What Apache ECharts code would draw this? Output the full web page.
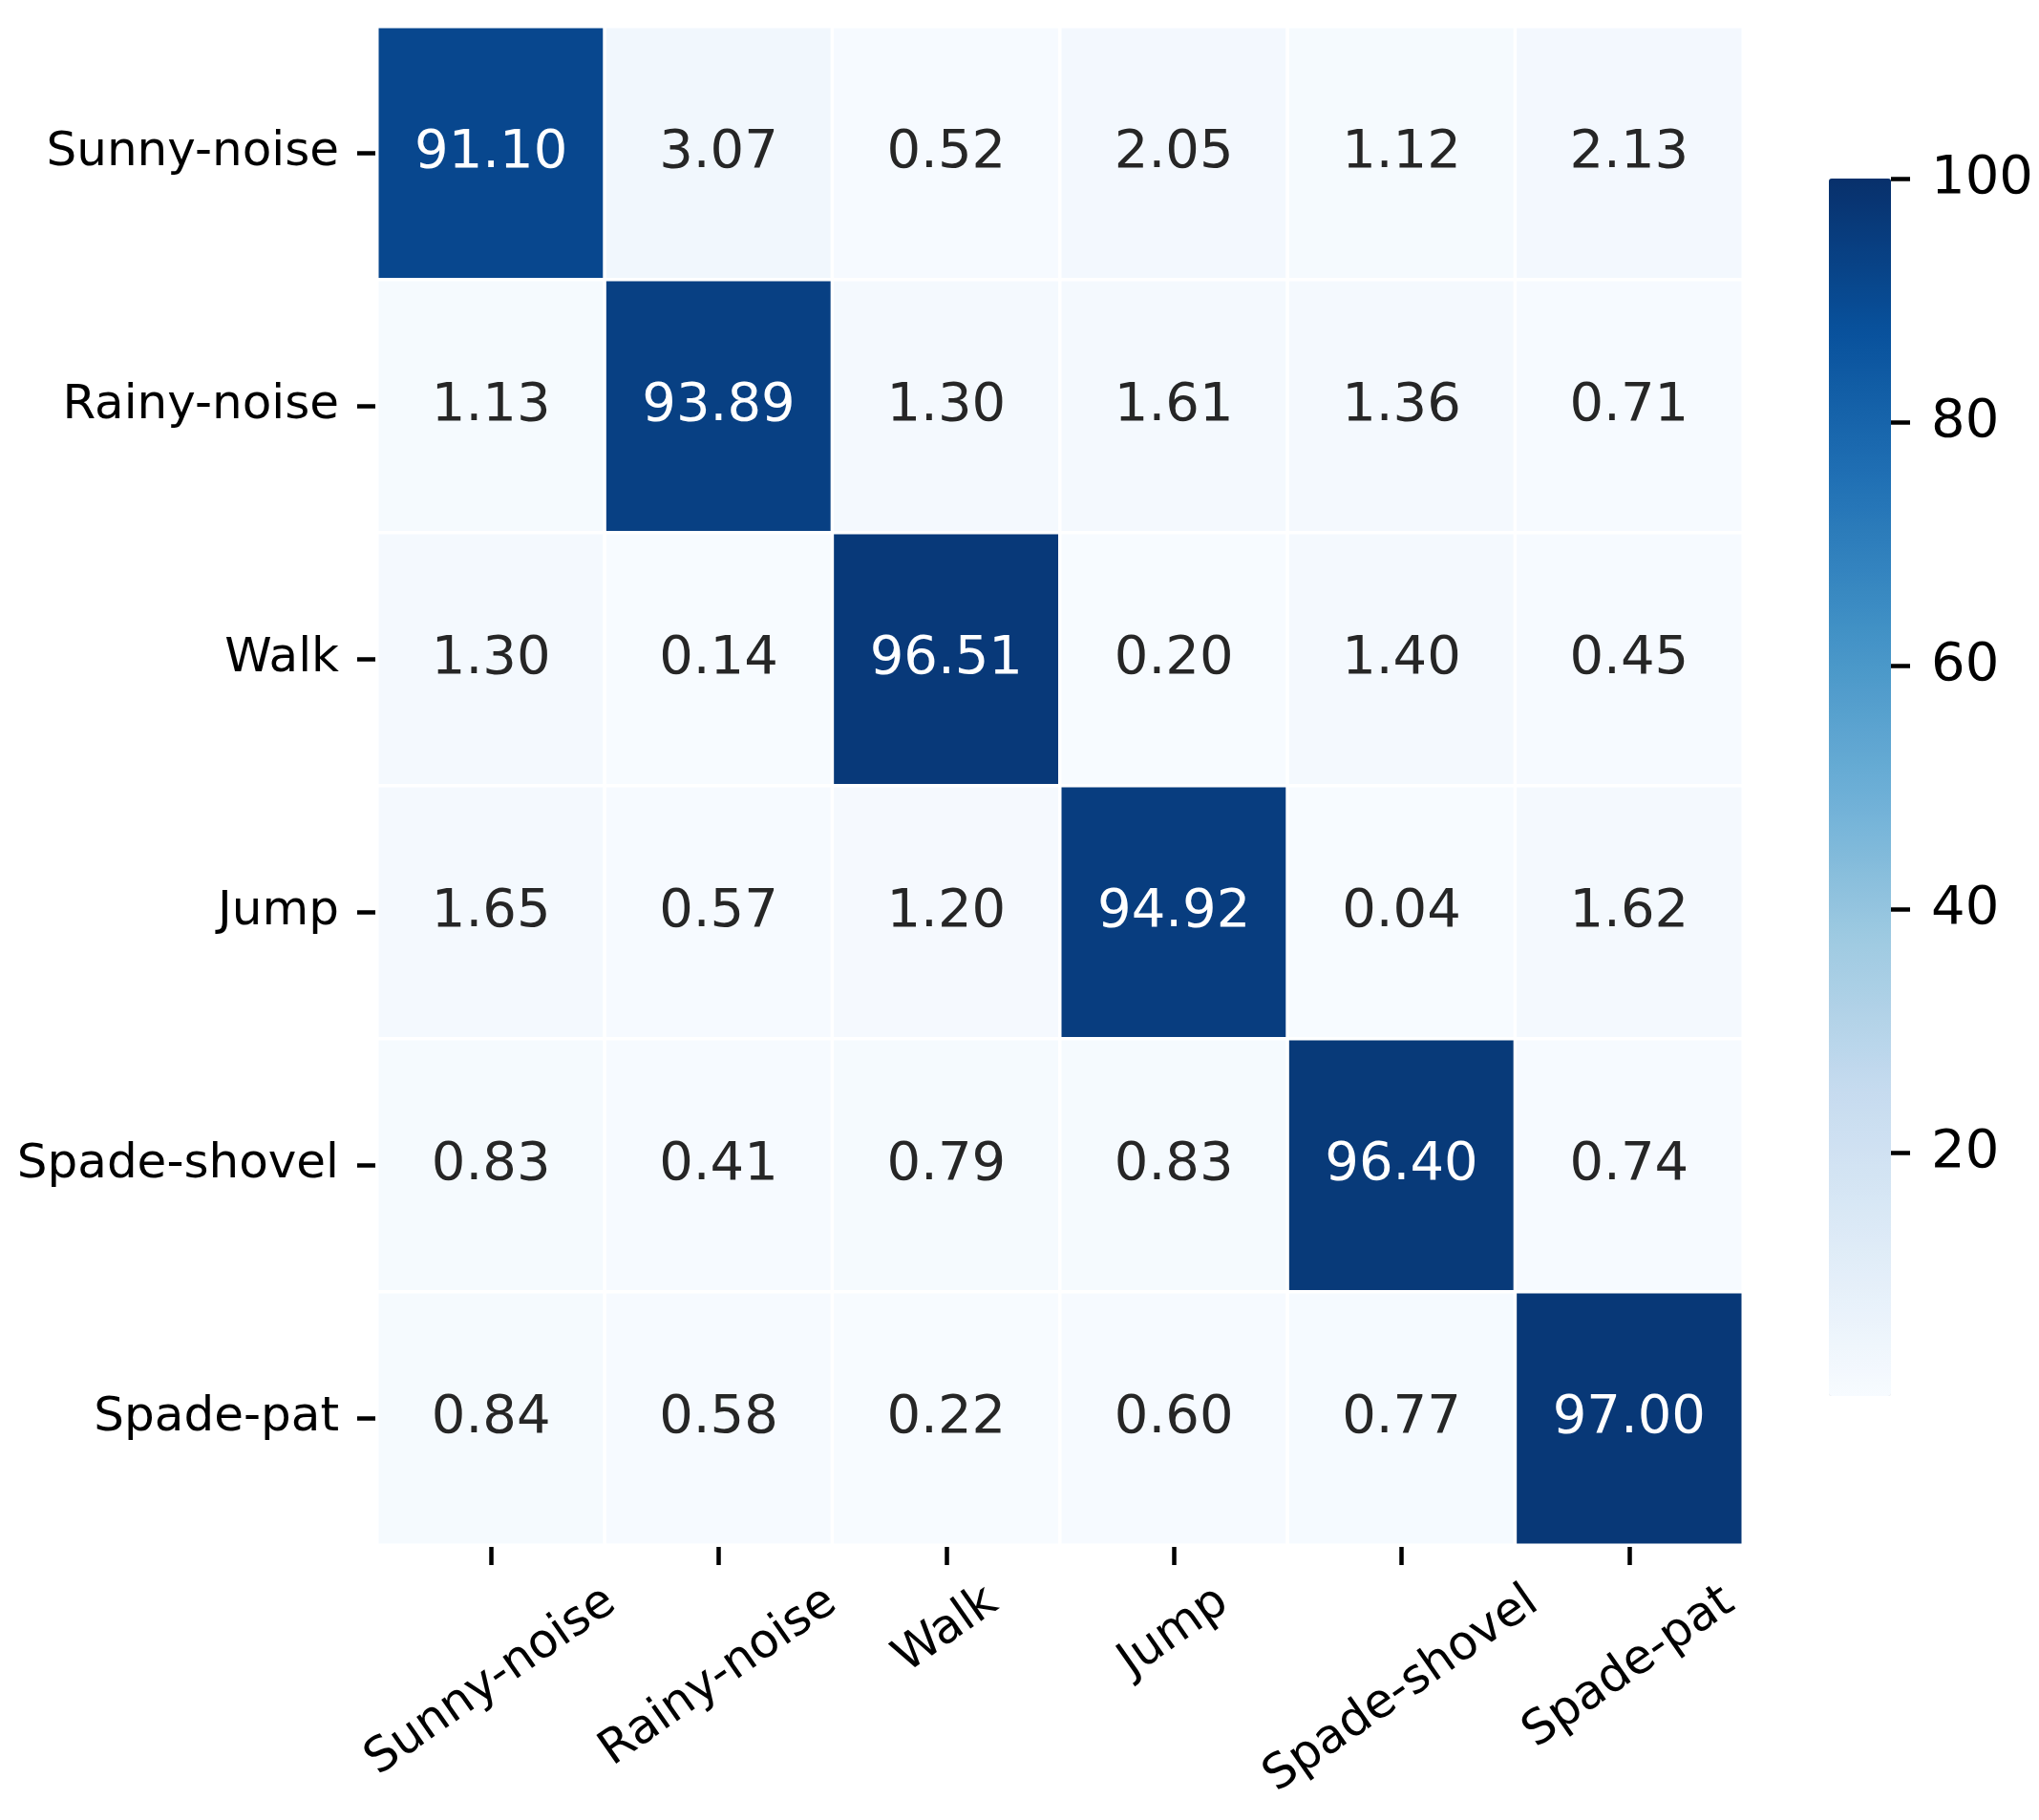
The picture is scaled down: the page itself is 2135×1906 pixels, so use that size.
<!DOCTYPE html>
<html>
<head>
    <meta charset="utf-8">
    <title>Confusion matrix</title>
    <script src="https://cdn.jsdelivr.net/npm/echarts@6/dist/echarts.min.js"></script>
    <style>
        html, body { margin: 0; padding: 0; background: #fff; }
    </style>
</head>
<body>
    <div id="main" style="width: 2135px;height:1906px;"></div>
    <script type="text/javascript">
        // class names (rows = true class, columns = predicted)
        var classes = ['Sunny-noise', 'Rainy-noise', 'Walk', 'Jump', 'Spade-shovel', 'Spade-pat'];

        // one array per row, in %
        var rowSunny = [91.10, 3.07, 0.52, 2.05, 1.12, 2.13];
        var rowRainy = [1.13, 93.89, 1.30, 1.61, 1.36, 0.71];
        var rowWalk = [1.30, 0.14, 96.51, 0.20, 1.40, 0.45];
        var rowJump = [1.65, 0.57, 1.20, 94.92, 0.04, 1.62];
        var rowShovel = [0.83, 0.41, 0.79, 0.83, 96.40, 0.74];
        var rowPat = [0.84, 0.58, 0.22, 0.60, 0.77, 97.00];
        var rows = [rowSunny, rowRainy, rowWalk, rowJump, rowShovel, rowPat];

        // colorbar scale 0..100, evenly spaced; the 0 mark is not drawn
        var colorbarTicks = ['0', '20', '40', '60', '80', '100'];
        // matplotlib "Blues"
        var blues = ['#f7fbff', '#deebf7', '#c6dbef', '#9ecae1', '#6baed6', '#4292c6', '#2171b5', '#08519c', '#08306b'];

        var FONT = 'DejaVu Sans';
        var ROT = 35;

        var data = [];
        rows.forEach(function (row, i) {
            row.forEach(function (v, j) {
                data.push({
                    value: [j, i, v],
                    label: { color: v > 60 ? '#ffffff' : '#262626' }
                });
            });
        });

        // x labels: centre the rotated box under the tick (like matplotlib ha=center).
        // shift along the text (right padding) and across it (line height, top aligned)
        var ctx = document.createElement('canvas').getContext('2d');
        ctx.font = '50px "' + FONT + '"';
        var s = Math.sin(ROT * Math.PI / 180), c = Math.cos(ROT * Math.PI / 180);
        var K = 45;
        var xLabels = classes.map(function (name) {
            var w = ctx.measureText(name).width;
            var d = w / 2 * s + K;
            return {
                value: name,
                textStyle: {
                    align: 'center',
                    verticalAlign: 'top',
                    lineHeight: 2 * d * c,
                    padding: [0, 2 * d * s, 0, 0]
                }
            };
        });

        var chart = echarts.init(document.getElementById('main'));

        var tickStyle = { show: true, length: 21, lineStyle: { color: '#000', width: 4.5 } };
        var hiddenLine = { show: true, onZero: false, lineStyle: { color: 'rgba(0,0,0,0)', width: 0 } };
        var skipZero = function (index) { return index > 0; };

        var option = {
            backgroundColor: '#ffffff',
            animation: false,
            textStyle: { fontFamily: FONT },
            grid: [
                { left: 395, top: 28, width: 1430, height: 1590, outerBoundsMode: 'none', containLabel: false },
                { left: 1915, top: 187, width: 65, height: 1275, outerBoundsMode: 'none', containLabel: false }
            ],
            xAxis: [
                {
                    type: 'category',
                    gridIndex: 0,
                    data: xLabels,
                    axisLine: hiddenLine,
                    axisTick: Object.assign({ alignWithLabel: true, interval: 0 }, tickStyle),
                    axisLabel: {
                        interval: 0, rotate: ROT, margin: 55 - K,
                        fontSize: 50, color: '#000', fontFamily: FONT
                    },
                    splitLine: { show: false }
                },
                { type: 'value', gridIndex: 1, show: false, min: 0, max: 1, axisLine: { onZero: false } }
            ],
            yAxis: [
                {
                    type: 'category',
                    gridIndex: 0,
                    inverse: true,
                    data: classes,
                    axisLine: hiddenLine,
                    axisTick: Object.assign({ alignWithLabel: true, interval: 0 }, tickStyle),
                    axisLabel: { interval: 0, margin: 40, fontSize: 50, color: '#000', fontFamily: FONT },
                    splitLine: { show: false }
                },
                {
                    type: 'category',
                    gridIndex: 1,
                    position: 'right',
                    z: 10,
                    boundaryGap: false,
                    data: colorbarTicks,
                    axisLine: hiddenLine,
                    axisTick: { show: true, inside: false, interval: skipZero, length: 20, lineStyle: { color: '#000', width: 4.5 } },
                    axisLabel: { interval: skipZero, margin: 42, fontSize: 56, color: '#000', fontFamily: FONT },
                    splitLine: { show: false }
                }
            ],
            visualMap: {
                type: 'continuous',
                min: 0,
                max: 100,
                seriesIndex: 0,
                calculable: false,
                hoverLink: false,
                orient: 'vertical',
                left: 1915,
                top: 187,
                padding: 0,
                itemWidth: 65,
                itemHeight: 1275,
                text: null,
                showLabel: false,
                inRange: { color: blues }
            },
            series: [
                {
                    type: 'heatmap',
                    xAxisIndex: 0,
                    yAxisIndex: 0,
                    data: data,
                    itemStyle: { borderColor: '#ffffff', borderWidth: 3.5 },
                    label: {
                        show: true,
                        fontSize: 56,
                        fontFamily: FONT,
                        formatter: function (p) { return p.value[2].toFixed(2); }
                    },
                    emphasis: { disabled: true }
                }
            ]
        };

        chart.setOption(option);
    </script>
</body>
</html>
